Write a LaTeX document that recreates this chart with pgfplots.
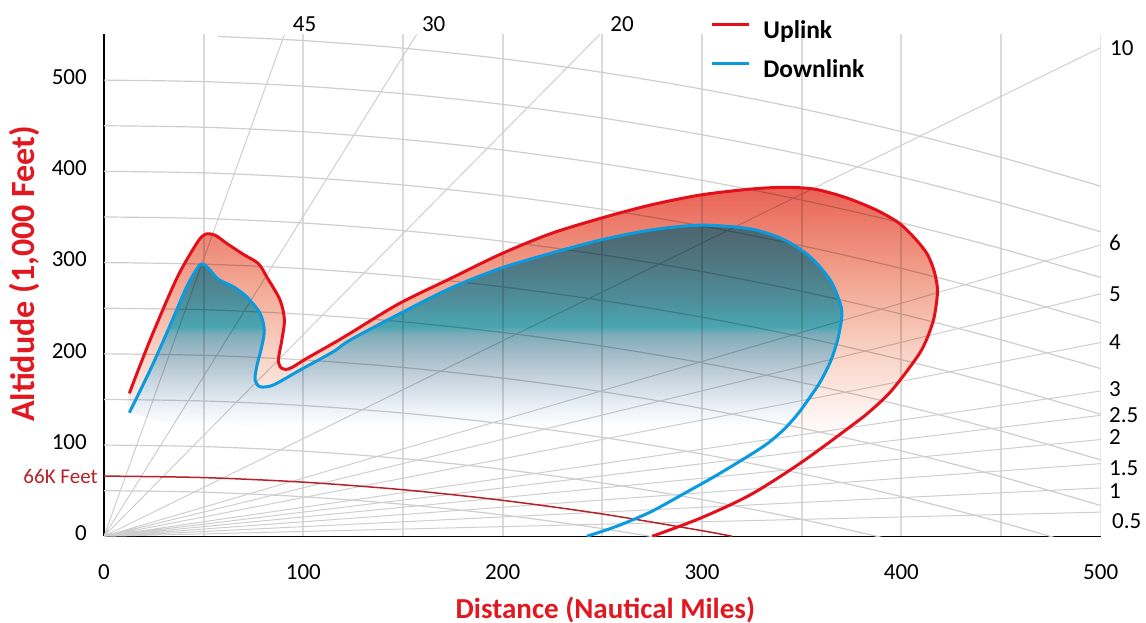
\documentclass[border=0pt]{standalone}
\usepackage{fontspec}
\setmainfont{Carlito}
\usepackage{pgfplots}
\usepackage{pgfplotstable}
\pgfplotsset{compat=1.18}

\definecolor{upred}{RGB}{227,16,27}
\definecolor{downblue}{RGB}{10,155,223}
\definecolor{titlered}{RGB}{226,24,32}
\definecolor{ftred}{RGB}{182,34,40}
\definecolor{gridgray}{RGB}{206,206,206}
\definecolor{vgridgray}{RGB}{218,218,218}

% vertical colour ramps; 25bp..75bp spans the filled region from y=0 to its top
\pgfdeclareverticalshading{uplinkfill}{100bp}{
  rgb(0bp)=(1,1,1);
  rgb(39.4bp)=(1,1,1);
  rgb(44.63bp)=(0.988,0.925,0.902);
  rgb(51.18bp)=(0.976,0.831,0.780);
  rgb(59.03bp)=(0.957,0.698,0.624);
  rgb(66.88bp)=(0.933,0.549,0.475);
  rgb(75bp)=(0.914,0.384,0.337);
  rgb(100bp)=(0.914,0.384,0.337)}
\pgfdeclareverticalshading{downlinkfill}{100bp}{
  rgb(0bp)=(1,1,1);
  rgb(42.54bp)=(1,1,1);
  rgb(45.47bp)=(0.933,0.953,0.976);
  rgb(49.85bp)=(0.796,0.847,0.886);
  rgb(54.24bp)=(0.643,0.737,0.788);
  rgb(57.46bp)=(0.490,0.675,0.729);
  rgb(58.63bp)=(0.290,0.651,0.698);
  rgb(63.30bp)=(0.306,0.553,0.600);
  rgb(68.86bp)=(0.310,0.467,0.506);
  rgb(75bp)=(0.302,0.392,0.431);
  rgb(100bp)=(0.302,0.392,0.431)}

% coverage envelopes: distance (NM), altitude (1,000 ft)
\pgfplotstableread{
x y
12.7 156.7
23.1 215
36.5 282.7
46.5 321
50.7 331
55.7 330
61.6 321
69.9 309
77.4 299
81.6 284.5
88.3 259
90.5 237
89.2 215
87.5 193
89.2 184
93.3 184
101.7 195
115 211.5
123.4 222.4
148 255
173.6 282.3
198.7 309
223.8 331.5
248.9 348.4
274 363
299 374
324 380.5
341 382.5
355 381
365 376
375 369
388 357
399 343
407 326
412.5 311
415.5 297
417.3 283
418.1 266.6
416.1 237
411 207.7
404.4 185.8
394.4 158
384.3 137.1
374.3 120
349.2 80
324.1 45.3
299 19.7
275 0
}\uplink

\pgfplotstableread{
x y
12.7 135.4
23.1 182
31.4 222.4
41.5 273.5
47.3 295.4
49.8 298.3
53.2 291.8
57.4 281.6
64.9 273.5
71.6 262.5
78.3 244.3
80.4 226
79.1 207.7
76.6 185.8
75.8 171.3
78.3 164
84.9 165.8
98.3 182.2
115 202.3
123.4 215
148 243.6
173.6 271.7
198.7 293.6
223.8 310
248.9 324.6
274 335.6
299 341
324 337
340.8 325.4
354.2 306.3
364.3 280.8
369.3 255.3
370.1 240.6
368 215
364.5 192
359.5 170
354 152
348 134
341 117
333 102
324 89
307.4 67
290.7 46.5
274 26.5
257.2 11
242.2 0
}\downlink

\pgfplotstableread{
x y
nan nan
12.7 156.7
}\holestart
\pgfplotstableread{
x y
275 0
}\holeend

% outer envelope plus the inner one as a hole (even-odd); the hole shares the outer closing edge
\pgfplotstablevertcat{\bothlinks}{\uplink}
\pgfplotstablevertcat{\bothlinks}{\holestart}
\pgfplotstablevertcat{\bothlinks}{\downlink}
\pgfplotstablevertcat{\bothlinks}{\holeend}

% constant-altitude curves over a curved earth (altitude in 1,000 ft)
\pgfplotstableread{
x   a50     a100   a150   a200   a250   a300   a350   a400   a450   a500
0   50      100    150    200    250    300    350    400    450    500
50  48.34   98.34  148.34 198.34 248.34 298.34 348.34 398.34 448.34 498.34
100 43.35   93.35  143.35 193.35 243.35 293.35 343.35 393.35 443.35 493.35
150 35.04   85.04  135.04 185.04 235.04 285.04 335.04 385.04 435.04 485.04
200 23.40   73.40  123.40 173.40 223.40 273.40 323.40 373.40 423.40 473.40
250 8.44    58.44  108.44 158.44 208.44 258.44 308.44 358.44 408.44 458.44
300 -9.85   40.15  90.15  140.15 190.15 240.15 290.15 340.15 390.15 440.15
350 -31.46  18.54  68.54  118.54 168.54 218.54 268.54 318.54 368.54 418.54
400 -56.40  -6.40  43.60  93.60  143.60 193.60 243.60 293.60 343.60 393.60
450 -84.66  -34.66 15.34  65.34  115.34 165.34 215.34 265.34 315.34 365.34
500 -116.25 -66.25 -16.25 33.75  83.75  133.75 183.75 233.75 283.75 333.75
}\arcs

\begin{document}
\begin{tikzpicture}
\begin{axis}[
  name=ax,
  width=498.35pt, height=250.9pt, scale only axis,
  xmin=0, xmax=500, ymin=0, ymax=550,
  axis x line*=bottom, axis y line*=left,
  axis line style={black, line width=0.7pt},
  xtick={0,100,...,500}, ytick={0,100,...,500},
  major tick length=0pt,
  /pgf/number format/assume math mode=true,
  /pgf/number format/1000 sep={},
  tick label style={font=\fontsize{11.5}{13}\selectfont, inner sep=0pt},
  xticklabel style={anchor=north, yshift=-14pt},
  yticklabel style={anchor=east, xshift=-8.4pt, yshift=1.5pt},
  clip mode=individual,
  legend style={at={(0.608,1.029)}, anchor=north west, draw=none, fill=none,
    inner sep=0pt, row sep=7.5pt,
    font=\fontsize{12.75}{14}\selectfont\bfseries,
    nodes={inner sep=0pt, text height=9pt, text depth=3pt},
    /tikz/every odd column/.append style={column sep=6.5pt}},
  legend cell align=left,
  legend image code/.code={\draw[#1, line width=1.5pt] (0pt,4pt) -- (18.5pt,4pt);},
]

% vertical grid
\addplot[forget plot, vgridgray, line width=1pt, unbounded coords=jump] coordinates {
  (50,0) (50,550) (nan,nan) (100,0) (100,550) (nan,nan)
  (150,0) (150,550) (nan,nan) (200,0) (200,550) (nan,nan)
  (250,0) (250,550) (nan,nan) (300,0) (300,550) (nan,nan)
  (350,0) (350,550) (nan,nan) (400,0) (400,550) (nan,nan)
  (450,0) (450,550) (nan,nan) (500,0) (500,550)};

% altitude curves
\pgfplotsinvokeforeach{50,100,150,200,250,300,350,400,450,500}{
  \addplot[forget plot, gridgray, line width=0.6pt, smooth] table[x=x, y=a#1] {\arcs};
}
\addplot[forget plot, gridgray, line width=0.6pt, smooth] coordinates {
  (57,547.84) (100,543.35) (150,535.04) (200,523.40) (250,508.44) (300,490.15)
  (350,468.54) (400,443.60) (450,415.34) (500,383.75)};

% elevation angle rays (degrees)
\addplot[forget plot, gridgray, line width=0.5pt, unbounded coords=jump] coordinates {
  (0,0) (90.5,550) (nan,nan)
  (0,0) (156.8,550) (nan,nan)
  (0,0) (248.7,550) (nan,nan)
  (0,0) (500,535.7) (nan,nan)
  (0,0) (500,319.3) (nan,nan)
  (0,0) (500,265.8) (nan,nan)
  (0,0) (500,212.4) (nan,nan)
  (0,0) (500,159.2) (nan,nan)
  (0,0) (500,132.6) (nan,nan)
  (0,0) (500,106.1) (nan,nan)
  (0,0) (500,79.6) (nan,nan)
  (0,0) (500,53.0) (nan,nan)
  (0,0) (500,26.5)};

% coverage fills
\addplot[forget plot, draw=none, shading=uplinkfill, even odd rule, smooth,
  unbounded coords=jump, blend mode=multiply] table {\bothlinks};
\addplot[forget plot, draw=none, shading=downlinkfill, smooth,
  blend mode=multiply] table {\downlink};

% 66,000 ft line
\addplot[forget plot, ftred, line width=0.75pt, smooth] coordinates {
  (0,66) (50,64.34) (100,59.35) (150,51.04) (200,39.40) (250,24.44) (300,6.15) (315,0)};

\addplot[upred, line width=1.5pt, smooth] table {\uplink};
\addlegendentry{Uplink}
\addplot[downblue, line width=1.5pt, smooth] table {\downlink};
\addlegendentry{Downlink}

% angle labels
\begin{scope}[every node/.style={font=\fontsize{11.5}{13}\selectfont, inner sep=0pt}]
\node at (axis cs:100.6,561.8) {45};
\node at (axis cs:165.4,561.8) {30};
\node at (axis cs:259.9,561.8) {20};
\node[anchor=west, xshift=4.5pt] at (axis cs:500,535.6) {10};
\node[anchor=west, xshift=4pt] at (axis cs:500,321.9) {6};
\node[anchor=west, xshift=4pt] at (axis cs:500,264.9) {5};
\node[anchor=west, xshift=4pt] at (axis cs:500,212.3) {4};
\node[anchor=west, xshift=4pt] at (axis cs:500,160.8) {3};
\node[anchor=west, xshift=4pt] at (axis cs:500,132.4) {2.5};
\node[anchor=west, xshift=4pt] at (axis cs:500,109.3) {2};
\node[anchor=west, xshift=4pt] at (axis cs:500,74.3) {1.5};
\node[anchor=west, xshift=4pt] at (axis cs:500,49.1) {1};
\node[anchor=west, xshift=5.5pt] at (axis cs:500,16.8) {0.5};
\end{scope}

\node[anchor=east, xshift=-3pt, inner sep=0pt, text=ftred,
  font=\fontsize{10.5}{12}\selectfont] at (axis cs:0,65.5) {66K Feet};

% axis titles
\node[text=titlered, font=\fontsize{14.5}{16}\selectfont\bfseries, inner sep=0pt]
  at ([yshift=-36.6pt]rel axis cs:0.503,0) {Distance (Nautical Miles)};
\node[text=titlered, font=\fontsize{17}{19}\selectfont\bfseries, inner sep=0pt,
  rotate=90] at ([xshift=-40pt]rel axis cs:0,0.5227) {Altidude (1,000 Feet)};
\end{axis}
\pgfresetboundingbox
\path[use as bounding box] ([shift={(-52pt,-43.35pt)}]ax.south west)
  rectangle ([shift={(22.65pt,17.25pt)}]ax.north east);
\end{tikzpicture}
\end{document}
